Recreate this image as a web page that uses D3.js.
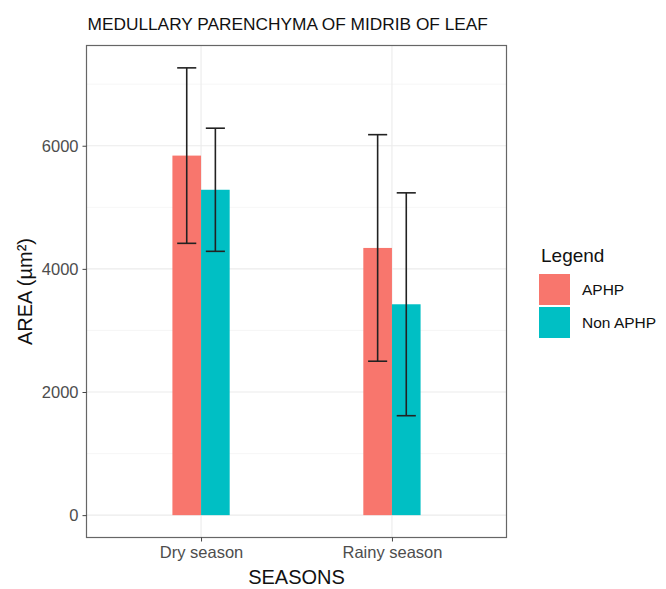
<!DOCTYPE html>
<html>
<head>
<meta charset="utf-8">
<script src="https://cdn.jsdelivr.net/npm/d3@7/dist/d3.min.js"></script>
<style>
  body { margin: 0; background: #fff; }
  svg text { font-family: "Liberation Sans", Arial, sans-serif; }
</style>
</head>
<body>
<svg id="chart" width="666" height="589"></svg>
<script>
// Seasons on the x axis, groups dodged within each season
const seasons = ["Dry season", "Rainy season"];
const groups = ["APHP", "Non APHP"];
// Mean area per group (µm²), one array per group in season order
const aphpMean = [5840, 4340];
const nonAphpMean = [5285, 3425];
// Error bar half-widths (standard deviation)
const aphpSd = [1425, 1840];
const nonAphpSd = [1000, 1810];
const yTicks = [0, 2000, 4000, 6000];
const yMinorTicks = [1000, 3000, 5000, 7000];
const colors = ["#F8766D", "#00BFC4"];

const rows = [];
seasons.forEach((s, i) => {
  rows.push({ season: s, group: groups[0], mean: aphpMean[i], sd: aphpSd[i] });
  rows.push({ season: s, group: groups[1], mean: nonAphpMean[i], sd: nonAphpSd[i] });
});

const svg = d3.select("#chart");
const panel = { left: 86.5, right: 506.5, top: 45.5, bottom: 537.5 };

// ggplot-style 5% expansion of the continuous range
const yMax = d3.max(rows, d => d.mean + d.sd);
const pad = yMax * 0.05;
const y = d3.scaleLinear().domain([-pad, yMax + pad]).range([panel.bottom, panel.top]);

// Discrete x with 0.6 expansion on each side
const unit = (panel.right - panel.left) / (seasons.length - 1 + 1.2);
const xCenter = d3.scalePoint().domain(seasons)
  .range([panel.left + 0.6 * unit, panel.right - 0.6 * unit]);
const barW = 0.15 * unit;
const xGroup = d3.scaleBand().domain(groups).range([-barW, barW]).padding(0);
const color = d3.scaleOrdinal().domain(groups).range(colors);

const g = svg.append("g");

// panel grid
g.selectAll(".minor").data(yMinorTicks.filter(v => y(v) > panel.top)).join("line")
  .attr("x1", panel.left).attr("x2", panel.right)
  .attr("y1", d => y(d)).attr("y2", d => y(d))
  .attr("stroke", "#f0f0f0").attr("stroke-width", 0.6);
g.selectAll(".major").data(yTicks).join("line")
  .attr("x1", panel.left).attr("x2", panel.right)
  .attr("y1", d => y(d)).attr("y2", d => y(d))
  .attr("stroke", "#ebebeb").attr("stroke-width", 1.1);
g.selectAll(".vmajor").data(seasons).join("line")
  .attr("x1", d => xCenter(d)).attr("x2", d => xCenter(d))
  .attr("y1", panel.top).attr("y2", panel.bottom)
  .attr("stroke", "#ebebeb").attr("stroke-width", 1.1);

// bars
g.selectAll(".bar").data(rows).join("rect")
  .attr("x", d => xCenter(d.season) + xGroup(d.group))
  .attr("width", xGroup.bandwidth())
  .attr("y", d => y(d.mean))
  .attr("height", d => y(0) - y(d.mean))
  .attr("fill", d => color(d.group));

// error bars
const capHalf = 0.05 * unit;
const eb = g.selectAll(".eb").data(rows).join("g")
  .attr("transform", d => `translate(${xCenter(d.season) + xGroup(d.group) + xGroup.bandwidth() / 2},0)`);
eb.append("line").attr("x1", 0).attr("x2", 0)
  .attr("y1", d => y(d.mean + d.sd)).attr("y2", d => y(d.mean - d.sd));
eb.append("line").attr("x1", -capHalf).attr("x2", capHalf)
  .attr("y1", d => y(d.mean + d.sd)).attr("y2", d => y(d.mean + d.sd));
eb.append("line").attr("x1", -capHalf).attr("x2", capHalf)
  .attr("y1", d => y(d.mean - d.sd)).attr("y2", d => y(d.mean - d.sd));
eb.selectAll("line").attr("stroke", "#222").attr("stroke-width", 1.6);

// panel border
g.append("rect")
  .attr("x", panel.left).attr("y", panel.top)
  .attr("width", panel.right - panel.left).attr("height", panel.bottom - panel.top)
  .attr("fill", "none").attr("stroke", "#666").attr("stroke-width", 1.2);

// y axis
const yAxis = g.append("g").attr("transform", `translate(${panel.left},0)`)
  .call(d3.axisLeft(y).tickValues(yTicks).tickSize(4).tickPadding(4).tickFormat(d3.format("d")));
yAxis.select(".domain").remove();
yAxis.selectAll(".tick line").attr("stroke", "#444");
yAxis.selectAll(".tick text").attr("fill", "#4d4d4d").style("font-size", "16.5px");

// x axis
const xAxis = g.append("g").attr("transform", `translate(0,${panel.bottom})`)
  .call(d3.axisBottom(xCenter).tickSize(4).tickPadding(5));
xAxis.select(".domain").remove();
xAxis.selectAll(".tick line").attr("stroke", "#444");
xAxis.selectAll(".tick text").attr("fill", "#4d4d4d").style("font-size", "16.5px");

// titles
svg.append("text").attr("x", panel.left + 1).attr("y", 30)
  .style("font-size", "17.3px").attr("fill", "#111")
  .text("MEDULLARY PARENCHYMA OF MIDRIB OF LEAF");
svg.append("text").attr("x", (panel.left + panel.right) / 2).attr("y", 584)
  .attr("text-anchor", "middle").style("font-size", "20px").attr("fill", "#111")
  .text("SEASONS");
svg.append("text")
  .attr("transform", `translate(32,${(panel.top + panel.bottom) / 2}) rotate(-90)`)
  .attr("text-anchor", "middle").style("font-size", "20px").attr("fill", "#111")
  .text("AREA (µm²)");

// legend
const lg = svg.append("g").attr("transform", "translate(539,0)");
lg.append("text").attr("x", 2).attr("y", 262).style("font-size", "19px").attr("fill", "#111").text("Legend");
const items = lg.selectAll(".item").data(groups).join("g")
  .attr("transform", (d, i) => `translate(0,${274 + i * 33})`);
items.append("rect").attr("width", 31).attr("height", 31).attr("fill", d => color(d));
items.append("text").attr("x", 43).attr("y", 21).style("font-size", "15.5px").attr("fill", "#111").text(d => d);
</script>
</body>
</html>
